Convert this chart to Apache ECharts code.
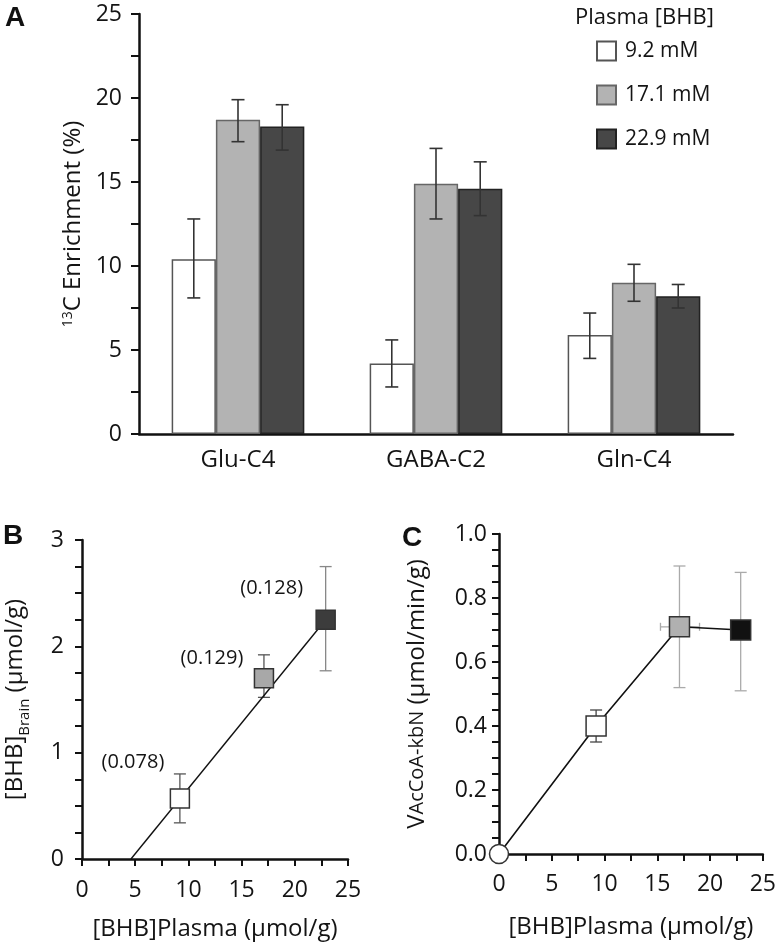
<!DOCTYPE html>
<html>
<head>
<meta charset="utf-8">
<script src="https://cdn.jsdelivr.net/npm/echarts@6/dist/echarts.min.js"></script>
<style>
html,body{margin:0;padding:0;background:#fff;}
#chart{width:779px;height:944px;}
</style>
</head>
<body>
<div id="chart"></div>
<script>
// ---------- DATA ----------
// Panel A
const categories = ['Glu-C4', 'GABA-C2', 'Gln-C4'];
const seriesNames = ['9.2 mM', '17.1 mM', '22.9 mM'];
const enrich92 = [10.4, 4.2, 5.9];
const enrich171 = [18.7, 14.9, 9.0];
const enrich229 = [18.3, 14.6, 8.2];
const errLow92 = [8.1, 2.8, 4.5];
const errHigh92 = [12.8, 5.6, 7.2];
const errLow171 = [17.4, 12.8, 7.9];
const errHigh171 = [19.9, 17.0, 10.1];
const errLow229 = [16.9, 13.0, 7.5];
const errHigh229 = [19.6, 16.2, 8.9];
const yTicksA = [0, 5, 10, 15, 20, 25];

// Panel B
const plasmaB = [9.2, 17.1, 22.9];
const brainB = [0.57, 1.70, 2.25];
const brainLowB = [0.34, 1.52, 1.77];
const brainHighB = [0.80, 1.92, 2.75];
const ratioLabelsB = ['(0.078)', '(0.129)', '(0.128)'];
const fitLineB = [[4.6, 0], [22.9, 2.25]];

// Panel C
const plasmaC = [0, 9.2, 17.1, 22.9];
const fluxC = [0, 0.40, 0.71, 0.70];
const fluxLowC = [null, 0.35, 0.52, 0.51];
const fluxHighC = [null, 0.45, 0.90, 0.88];
const plasmaLowC = [null, null, 15.3, null];
const plasmaHighC = [null, null, 19.0, null];

// ---------- STYLE ----------
const FONT = '"Open Sans"';
const TXT = '#141414';
const barFill = ['#ffffff', '#b3b3b3', '#474747'];
const barBorder = ['#555555', '#666666', '#222222'];
const ptFillB = ['#ffffff', '#a8a8a8', '#3c3c3c'];
const ptFillC = ['#ffffff', '#ffffff', '#b0b0b0', '#111111'];
const labelOffsetsB = [[-47, -36], [-52, -20], [-54, -31]];

const chart = echarts.init(document.getElementById('chart'), null, {renderer: 'canvas'});

const barVals = [enrich92, enrich171, enrich229];
const lows = [errLow92, errLow171, errLow229];
const highs = [errHigh92, errHigh171, errHigh229];
const CAT_GAP = 0.33;

const barSeries = barVals.map((vals, i) => ({
  type: 'bar', name: seriesNames[i], xAxisIndex: 0, yAxisIndex: 0,
  data: vals, barGap: '0%', barCategoryGap: (CAT_GAP * 100) + '%',
  itemStyle: {color: barFill[i], borderColor: barBorder[i], borderWidth: 1.5},
  z: 2
}));

const errSeriesA = barVals.map((vals, i) => ({
  type: 'custom', xAxisIndex: 0, yAxisIndex: 0, z: 5, silent: true,
  data: categories.map((c, k) => [k, lows[i][k], highs[i][k]]),
  encode: {x: 0, y: [1, 2]},
  renderItem: function (params, api) {
    const band = api.size([1, 0])[0];
    const bw = band * (1 - CAT_GAP) / 3;
    const off = (i - 1) * bw;
    const p1 = api.coord([api.value(0), api.value(1)]);
    const p2 = api.coord([api.value(0), api.value(2)]);
    const x = p1[0] + off;
    const cap = 6.5;
    const st = {stroke: '#333', lineWidth: 1.6};
    return {type: 'group', children: [
      {type: 'line', shape: {x1: x, y1: p1[1], x2: x, y2: p2[1]}, style: st},
      {type: 'line', shape: {x1: x - cap, y1: p1[1], x2: x + cap, y2: p1[1]}, style: st},
      {type: 'line', shape: {x1: x - cap, y1: p2[1], x2: x + cap, y2: p2[1]}, style: st}
    ]};
  }
}));

function errRender(colorFn, capY, capX) {
  return function (params, api) {
    const idx = params.dataIndex;
    const children = [];
    const col = colorFn(idx);
    const st = {stroke: col, lineWidth: 1.3};
    const xv = api.value(0);
    const lo = api.value(1), hi = api.value(2);
    if (!isNaN(lo) && !isNaN(hi)) {
      const a = api.coord([xv, lo]), b = api.coord([xv, hi]);
      children.push({type: 'line', shape: {x1: a[0], y1: a[1], x2: b[0], y2: b[1]}, style: st});
      children.push({type: 'line', shape: {x1: a[0] - capY, y1: a[1], x2: a[0] + capY, y2: a[1]}, style: st});
      children.push({type: 'line', shape: {x1: b[0] - capY, y1: b[1], x2: b[0] + capY, y2: b[1]}, style: st});
    }
    const xl = api.value(3), xh = api.value(4), yv = api.value(5);
    if (!isNaN(xl) && !isNaN(xh)) {
      const a = api.coord([xl, yv]), b = api.coord([xh, yv]);
      children.push({type: 'line', shape: {x1: a[0], y1: a[1], x2: b[0], y2: b[1]}, style: st});
      children.push({type: 'line', shape: {x1: a[0], y1: a[1] - capX, x2: a[0], y2: a[1] + capX}, style: st});
      children.push({type: 'line', shape: {x1: b[0], y1: b[1] - capX, x2: b[0], y2: b[1] + capX}, style: st});
    }
    return {type: 'group', children: children};
  };
}

const tickStyle = {color: '#111', width: 2};
const axisLineStyle = {lineStyle: {color: '#111', width: 2.5}};
const TICK_FS = 23;

const option = {
  animation: false,
  backgroundColor: '#fff',
  textStyle: {fontFamily: FONT, color: TXT},
  title: {
    text: 'Plasma [BHB]', left: 570, top: 2,
    textStyle: {fontFamily: FONT, fontSize: 22, fontWeight: 'normal', color: TXT}
  },
  legend: {
    data: seriesNames, orient: 'vertical', left: 591, top: 31,
    icon: 'rect', itemWidth: 19, itemHeight: 19, itemGap: 14,
    textStyle: {fontFamily: FONT, fontSize: 21, color: TXT, padding: [0, 0, 0, 4], lineHeight: 30},
    selectedMode: false
  },
  graphic: [
    {type: 'text', left: 5, top: 4, style: {text: 'A', font: 'bold 28px "Liberation Sans"', fill: '#111'}},
    {type: 'text', left: 3, top: 522, style: {text: 'B', font: 'bold 28px "Liberation Sans"', fill: '#111'}},
    {type: 'text', left: 402, top: 524, style: {text: 'C', font: 'bold 28px "Liberation Sans"', fill: '#111'}}
  ],
  grid: [
    {left: 139, top: 14, width: 594, height: 420},
    {left: 82, top: 540, width: 266, height: 319},
    {left: 499, top: 534, width: 264, height: 320}
  ],
  xAxis: [
    {
      type: 'category', gridIndex: 0, data: categories,
      axisLine: axisLineStyle, axisTick: {show: false},
      axisLabel: {fontSize: 24, color: TXT, margin: 14, fontFamily: FONT}
    },
    {
      type: 'value', gridIndex: 1, min: 0, max: 25, interval: 2.5,
      axisLine: axisLineStyle, axisTick: {show: true, length: 7, lineStyle: tickStyle},
      splitLine: {show: false},
      axisLabel: {fontSize: TICK_FS, color: TXT, margin: 20, fontFamily: FONT,
        formatter: v => (Math.round(v * 2) % 10 === 0 ? String(Math.round(v)) : '')},
      name: '[BHB]Plasma (μmol/g)', nameLocation: 'middle', nameGap: 58,
      nameTextStyle: {fontSize: 24, color: TXT, fontFamily: FONT}
    },
    {
      type: 'value', gridIndex: 2, min: 0, max: 25, interval: 2.5,
      axisLine: axisLineStyle, axisTick: {show: true, length: 7, lineStyle: tickStyle},
      splitLine: {show: false},
      axisLabel: {fontSize: TICK_FS, color: TXT, margin: 19, fontFamily: FONT,
        formatter: v => (Math.round(v * 2) % 10 === 0 ? String(Math.round(v)) : '')},
      name: '[BHB]Plasma (μmol/g)', nameLocation: 'middle', nameGap: 61,
      nameTextStyle: {fontSize: 24, color: TXT, fontFamily: FONT}
    }
  ],
  yAxis: [
    {
      type: 'value', gridIndex: 0, min: 0, max: 25, interval: 2.5,
      axisLine: {show: true, lineStyle: {color: '#111', width: 2.5}},
      axisTick: {show: true, length: 8, lineStyle: tickStyle},
      splitLine: {show: false},
      axisLabel: {fontSize: TICK_FS, color: TXT, margin: 17, fontFamily: FONT,
        formatter: v => (yTicksA.indexOf(v) >= 0 ? String(v) : '')},
      name: '{sup|13}C Enrichment (%)', nameLocation: 'middle', nameGap: 47,
      nameTextStyle: {fontSize: 24, color: TXT, fontFamily: FONT,
        rich: {sup: {fontSize: 14, color: TXT, fontFamily: FONT, verticalAlign: 'top', lineHeight: 24}}}
    },
    {
      type: 'value', gridIndex: 1, min: 0, max: 3, interval: 0.25,
      axisLine: {show: true, lineStyle: {color: '#111', width: 2.5}},
      axisTick: {show: true, length: 7, lineStyle: tickStyle},
      splitLine: {show: false},
      axisLabel: {fontSize: TICK_FS, color: TXT, margin: 18, fontFamily: FONT,
        formatter: v => (Math.abs(v - Math.round(v)) < 1e-6 ? String(Math.round(v)) : '')},
      name: '[BHB]{sub|Brain} (μmol/g)', nameLocation: 'middle', nameGap: 50,
      nameTextStyle: {fontSize: 24, color: TXT, fontFamily: FONT,
        rich: {sub: {fontSize: 15, color: TXT, fontFamily: FONT, verticalAlign: 'bottom', lineHeight: 34}}}
    },
    {
      type: 'value', gridIndex: 2, min: 0, max: 1, interval: 0.05,
      axisLine: {show: true, lineStyle: {color: '#111', width: 2.5}},
      axisTick: {show: true, length: 7, lineStyle: tickStyle},
      splitLine: {show: false},
      axisLabel: {fontSize: TICK_FS, color: TXT, margin: 12, fontFamily: FONT,
        formatter: v => (Math.round(v * 20) % 4 === 0 ? v.toFixed(1) : '')},
      name: 'V{sm|AcCoA-kbN} (μmol/min/g)', nameLocation: 'middle', nameGap: 70,
      nameTextStyle: {fontSize: 24, color: TXT, fontFamily: FONT,
        rich: {sm: {fontSize: 20, color: TXT, fontFamily: FONT}}}
    }
  ],
  series: [
    ...barSeries,
    ...errSeriesA,
    {
      type: 'line', xAxisIndex: 1, yAxisIndex: 1, data: fitLineB, symbol: 'none',
      lineStyle: {color: '#111', width: 1.4}, z: 3, silent: true
    },
    {
      type: 'custom', xAxisIndex: 1, yAxisIndex: 1, z: 2, silent: true,
      data: plasmaB.map((x, k) => [x, brainLowB[k], brainHighB[k], NaN, NaN, brainB[k]]),
      encode: {x: 0, y: [1, 2]},
      renderItem: errRender(k => (k === 2 ? '#888' : '#555'), 6, 4)
    },
    {
      type: 'scatter', xAxisIndex: 1, yAxisIndex: 1, symbol: 'rect', symbolSize: 19, z: 6,
      itemStyle: {opacity: 1},
      data: plasmaB.map((x, k) => ({
        value: [x, brainB[k]],
        itemStyle: {color: ptFillB[k], borderColor: '#333', borderWidth: 1.5, opacity: 1},
        label: {show: true, formatter: ratioLabelsB[k], position: 'inside', offset: labelOffsetsB[k],
          fontSize: 20, color: TXT, fontFamily: FONT, opacity: 1}
      }))
    },
    {
      type: 'custom', xAxisIndex: 2, yAxisIndex: 2, z: 2, silent: true,
      data: plasmaC.map((x, k) => [x,
        fluxLowC[k] == null ? NaN : fluxLowC[k],
        fluxHighC[k] == null ? NaN : fluxHighC[k],
        plasmaLowC[k] == null ? NaN : plasmaLowC[k],
        plasmaHighC[k] == null ? NaN : plasmaHighC[k],
        fluxC[k]]),
      encode: {x: 0, y: [1, 2]},
      renderItem: errRender(k => (k === 1 ? '#444' : '#aaa'), 6, 4)
    },
    {
      type: 'line', xAxisIndex: 2, yAxisIndex: 2, z: 6,
      lineStyle: {color: '#111', width: 1.6},
      data: plasmaC.map((x, k) => ({
        value: [x, fluxC[k]],
        symbol: k === 0 ? 'circle' : 'rect',
        symbolSize: k === 0 ? 19 : 20,
        itemStyle: {color: ptFillC[k], borderColor: '#333', borderWidth: 1.5}
      }))
    }
  ]
};

chart.setOption(option);
</script>
</body>
</html>
